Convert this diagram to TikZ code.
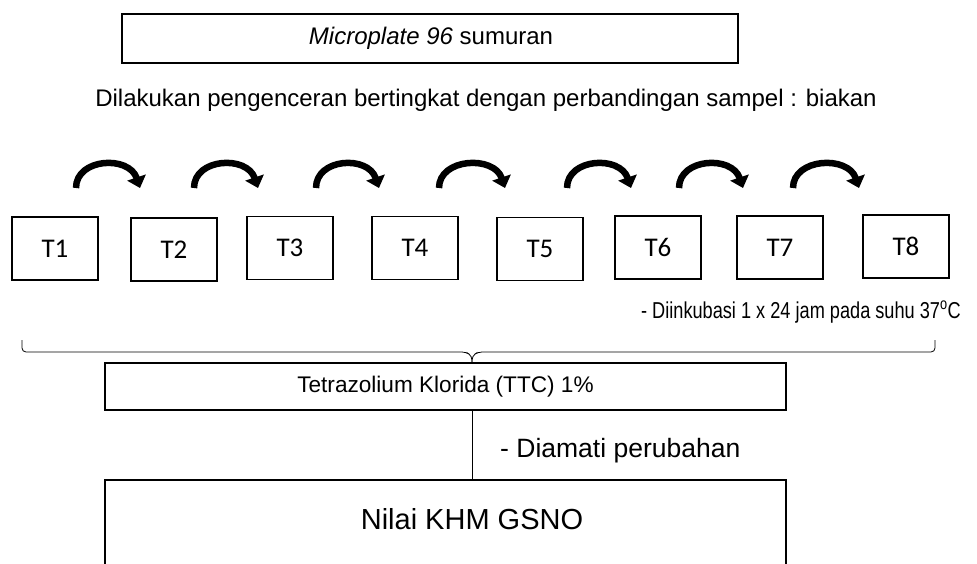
\documentclass[tikz,border=0pt]{standalone}
\usepackage{fontspec}
\setmainfont{Liberation Sans}
\newfontfamily\calibri{Carlito}
\newfontfamily\narrowsans[FakeStretch=0.79]{Liberation Sans}
\usetikzlibrary{arrows.meta}
\begin{document}
\begin{tikzpicture}[x=1pt,y=-1pt,
  mainbox/.style={draw=black,line width=1.4pt,inner sep=0pt},
  tubebox/.style={draw=black,line width=1.8pt,minimum width=86pt,minimum height=63pt,inner sep=0pt,font=\calibri\fontsize{27}{30}\selectfont},
  plain/.style={inner sep=0pt,font=\fontsize{24}{28}\selectfont},
  transfer/.style={line width=6.5pt,-{Triangle[width=19pt,length=11pt]}},
  thinline/.style={line width=0.8pt}]
\useasboundingbox (0,0) rectangle (977,564);

% top box and dilution note
\node[mainbox,minimum width=616pt,minimum height=49pt] (plate) at (430,38.5) {};
\node[plain] (platetext) at (431,38) {\textit{Microplate 96} sumuran};
\node[plain] (note) at (486,100) {Dilakukan pengenceran bertingkat dengan perbandingan sampel : biakan};

% dilution tubes
\node[tubebox] (t1) at (55,248.5) {T1};
\node[tubebox] (t2) at (174,249.5) {T2};
\node[tubebox] (t3) at (290,248) {T3};
\node[tubebox] (t4) at (415,248) {T4};
\node[tubebox] (t5) at (540,249) {T5};
\node[tubebox] (t6) at (658,247.5) {T6};
\node[tubebox] (t7) at (780,247.5) {T7};
\node[tubebox] (t8) at (906,246.5) {T8};

% transfer arrows between tubes
\foreach \s/\e [count=\i] in {76/140,194/258,316/379,439/505,567/631,679/743,793/859}{
  \coordinate (a\i) at (\s,188);
  \coordinate (b\i) at (\e,188);
  \draw[transfer] (a\i) .. controls (\s,158) and ({\e-11},155) .. (b\i);
}

\node[inner sep=0pt,anchor=east,font=\narrowsans\fontsize{23}{27}\selectfont] (incub) at (961,312) {- Diinkubasi 1 x 24 jam pada suhu 37\textsuperscript{o}C};

% brace gathering the tubes
\coordinate (bl) at (22,340);
\coordinate (br) at (935,340);
\node[mainbox,minimum width=681pt,minimum height=47pt] (ttc) at (445.5,386.5) {};
\node[inner sep=0pt,font=\fontsize{22.6}{26}\selectfont] (ttctext) at (445.5,387) {Tetrazolium Klorida (TTC) 1\%};
\coordinate (tip) at (472,363);
\draw[thinline,rounded corners=4pt] (bl) -- (22,352) -- (466,352) -- (472,356) -- (tip);
\draw[thinline,rounded corners=4pt] (tip) -- (472,356) -- (478,352) -- (935,352) -- (br);

% result
\node[mainbox,minimum width=681pt,minimum height=100pt] (khm) at (445.5,530) {};
\node[inner sep=0pt,font=\fontsize{29}{32}\selectfont] (khmtext) at (472,519) {Nilai KHM GSNO};
\draw[thinline] (ttc.south -| tip) -- (khm.north -| tip);
\node[inner sep=0pt,anchor=west,font=\fontsize{26.5}{30}\selectfont] (obs) at (500,451) {- Diamati perubahan};
\end{tikzpicture}
\end{document}
